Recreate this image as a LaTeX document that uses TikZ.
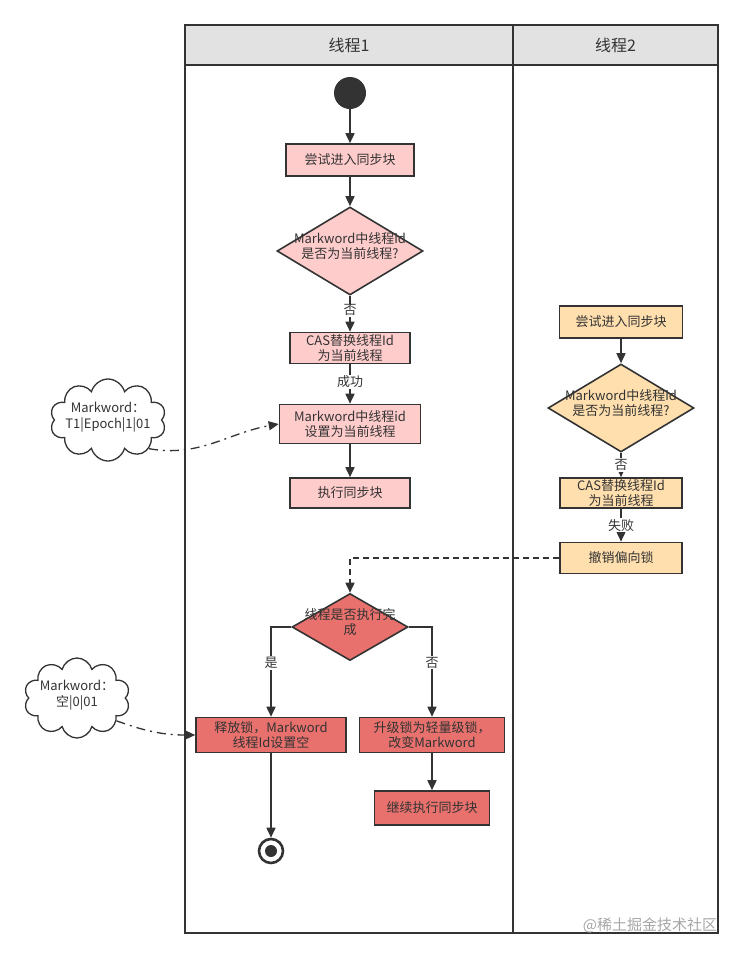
\documentclass[tikz,border=0pt]{standalone}
\usepackage{fontspec}
\setmainfont{Noto Sans CJK SC}
\usetikzlibrary{arrows.meta,positioning,shapes.geometric,shapes.symbols}
\definecolor{linec}{HTML}{333333}
\definecolor{headc}{HTML}{E2E2E2}
\definecolor{pinkc}{HTML}{FFCCCC}
\definecolor{orangec}{HTML}{FFDFAE}
\definecolor{redc}{HTML}{E8716D}
\newcommand{\zbox}[1]{\smash{\makebox[0pt]{\begin{tabular}{@{}c@{}}#1\end{tabular}}}}
\tikzset{
  actbox/.style={rectangle, draw=linec, line width=1.6pt, inner sep=0pt, align=center,
    text=linec, font=\fontsize{13}{15}\selectfont},
  pinkbox/.style={actbox, fill=pinkc},
  orangebox/.style={actbox, fill=orangec},
  redbox/.style={actbox, fill=redc},
  decide/.style={diamond, draw=linec, line width=1.6pt, inner sep=0pt, text=linec,
    font=\fontsize{13}{15}\selectfont},
  note/.style={cloud, cloud puffs=10, cloud ignores aspect, draw=linec, line width=1.3pt,
    fill=white, inner sep=0pt, text=linec, font=\fontsize{13}{16}\selectfont},
  lanehead/.style={rectangle, draw=linec, line width=1.6pt, fill=headc, minimum height=40pt,
    text=linec, font=\fontsize{16}{18}\selectfont},
  edgelabel/.style={fill=white, inner sep=1pt, text=linec, font=\fontsize{13}{15}\selectfont},
  flow/.style={draw=linec, line width=1.6pt, -{Triangle[length=10pt,width=9pt]}},
  msg/.style={flow, dashed, dash pattern=on 6pt off 4pt},
  memo/.style={flow, line width=1.3pt, dash pattern=on 9pt off 5pt on 2pt off 5pt}
}
\begin{document}
\begin{tikzpicture}[x=1pt,y=-1pt,on grid,node distance=70pt]
\useasboundingbox (0,0) rectangle (743,959);
% swimlanes
\draw[linec, line width=1.6pt] (185,25) rectangle (513,933) (513,25) rectangle (718,933);
\node[lanehead, minimum width=328pt] (lane1) at (349,45) {线程1};
\node[lanehead, minimum width=205pt] (lane2) at (615.5,45) {线程2};

% thread 1
\node[circle, fill=linec, minimum size=32pt, inner sep=0pt] (start) at (350,93) {};
\node[pinkbox, minimum width=128pt, minimum height=32pt] (try1) [below=67pt of start] {尝试进入同步块};
\node[decide, fill=pinkc, minimum width=146pt, minimum height=88pt] (dia1) [below=91pt of try1]
  {\zbox{Markword中线程id\\是否为当前线程?}};
\node[pinkbox, minimum width=120pt, minimum height=31pt] (cas1) [below=97pt of dia1] {CAS替换线程Id\\为当前线程};
\node[pinkbox, minimum width=141pt, minimum height=39pt] (set1) [below=76pt of cas1] {Markword中线程id\\设置为当前线程};
\node[pinkbox, minimum width=120pt, minimum height=30pt] (exec1) [below=69pt of set1] {执行同步块};
\node[note, minimum width=116pt, minimum height=82pt] (cloud1) at (108,420) {\zbox{Markword：\\T1|Epoch|1|01}};

% thread 2
\node[orangebox, minimum width=123pt, minimum height=32pt] (try2) at (621,322) {尝试进入同步块};
\node[decide, fill=orangec, minimum width=146pt, minimum height=88pt] (dia2) [below=86pt of try2]
  {\zbox{Markword中线程id\\是否为当前线程?}};
\node[orangebox, minimum width=122pt, minimum height=30pt] (cas2) [below=85pt of dia2] {CAS替换线程Id\\为当前线程};
\node[orangebox, minimum width=122pt, minimum height=31pt] (undo2) [below=65pt of cas2] {撤销偏向锁};

% after revoke
\node[decide, fill=redc, minimum width=116pt, minimum height=67pt] (dia3) at (350,627)
  {\zbox{线程是否执行完\\成}};
\node[redbox, minimum width=150pt, minimum height=35pt] (free) [below left=108pt and 79pt of dia3] {释放锁，Markword\\线程Id设置空};
\node[redbox, minimum width=145pt, minimum height=35pt] (upg) [below right=108pt and 82pt of dia3] {升级锁为轻量级锁，\\改变Markword};
\node[redbox, minimum width=115pt, minimum height=34pt] (cont) [below=73pt of upg] {继续执行同步块};
\node[circle, draw=linec, line width=2.6pt, fill=white, minimum size=24pt, inner sep=0pt,
  path picture={\fill[linec] (path picture bounding box.center) circle (6pt);}] (stop) [below=116pt of free] {};
\node[note, minimum width=106pt, minimum height=80pt] (cloud2) at (77,698) {\zbox{Markword：\\空|0|01}};

\node[text=gray!70, font=\fontsize{15}{17}\selectfont] (mark) at (650,925) {@稀土掘金技术社区};

\draw[flow] (start) -- (try1);
\draw[flow] (try1) -- (dia1);
\draw[flow] (dia1) -- node[edgelabel, pos=0.4] {否} (cas1);
\draw[flow] (cas1) -- node[edgelabel, pos=0.45] {成功} (set1);
\draw[flow] (set1) -- (exec1);
\draw[flow] (try2) -- (dia2);
\draw[flow] (dia2) -- node[edgelabel, pos=0.5] {否} (cas2);
\draw[flow] (cas2) -- node[edgelabel, pos=0.5] {失败} (undo2);
\draw[msg] (undo2.west) -| (dia3.north);
\draw[flow] (dia3.west) -| node[edgelabel, pos=0.7] {是} (free.north);
\draw[flow] (dia3.east) -| node[edgelabel, pos=0.7] {否} (upg.north);
\draw[flow] (free) -- (stop);
\draw[flow] (upg) -- (cont);
\draw[memo] (cloud1.-35) to[out=-10, in=190] (set1.west);
\draw[memo] (cloud2.-30) to[out=-20, in=180] (free.west);
\end{tikzpicture}
\end{document}
